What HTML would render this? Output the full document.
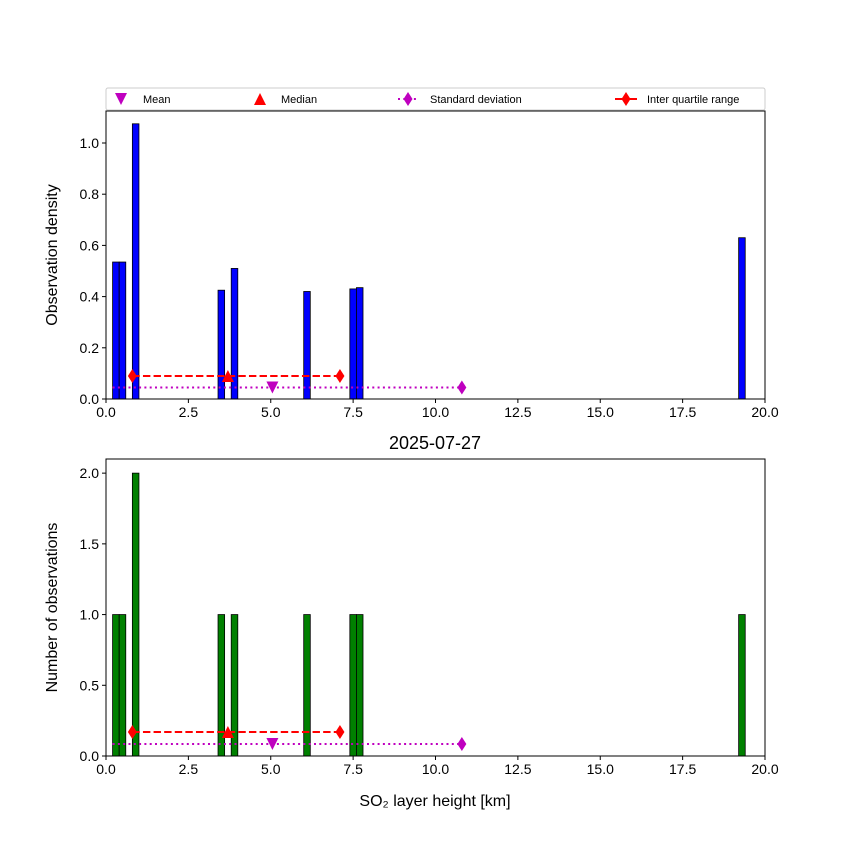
<!DOCTYPE html>
<html><head><meta charset="utf-8"><style>body{margin:0;background:#fff}svg{font-family:"Liberation Sans","DejaVu Sans",sans-serif}</style></head>
<body>
<svg id="c" width="850" height="850" xmlns="http://www.w3.org/2000/svg"></svg>
<script>
const binLefts=[0.2,0.4,0.8,3.4,3.8,6.0,7.4,7.6,19.2];
const binWidth=0.2;
const densities=[0.535,0.535,1.075,0.425,0.51,0.42,0.43,0.435,0.63];
const counts=[1,1,2,1,1,1,1,1,1];
const meanVal=5.05, medianVal=3.7, q1=0.8, q3=7.1, stdStart=0.2, stdEnd=10.8;
const topMarkY={mean:0.045,median:0.09,iqr:0.09,std:0.045};
const botMarkY={mean:0.085,median:0.17,iqr:0.17,std:0.085};
const xTicks=[0,2.5,5,7.5,10,12.5,15,17.5,20];
const xTickLabels=["0.0","2.5","5.0","7.5","10.0","12.5","15.0","17.5","20.0"];
const topYTicks=[0,0.2,0.4,0.6,0.8,1.0];
const topYLabels=["0.0","0.2","0.4","0.6","0.8","1.0"];
const botYTicks=[0,0.5,1.0,1.5,2.0];
const botYLabels=["0.0","0.5","1.0","1.5","2.0"];

const svg=document.getElementById('c');const NS="http://www.w3.org/2000/svg";
function el(t,a,p){const e=document.createElementNS(NS,t);for(const k in a)e.setAttribute(k,a[k]);(p||svg).appendChild(e);return e;}
const X0=106,X1=765;
const sx=v=>X0+(v/20)*(X1-X0);
function panel(name,top,bottom,ymax,vals,color,yt,yl,marks,ylabel){
  const g=el('g',{});
  
  
  const sy=v=>bottom-(v/ymax)*(bottom-top);
  vals.forEach((v,i)=>{const r=el('rect',{x:sx(binLefts[i]),y:sy(v),width:sx(binWidth)-sx(0),height:bottom-sy(v),fill:color,stroke:'#000','stroke-width':0.8},g);
    
    });
  const sl=el('line',{x1:sx(stdStart),x2:sx(stdEnd),y1:sy(marks.std),y2:sy(marks.std),stroke:'#bf00bf','stroke-width':2,'stroke-dasharray':'2,3.3'},g);
  
  
  diamond(g,sx(stdEnd),sy(marks.std),'#bf00bf','std-marker');
  const il=el('line',{x1:sx(q1),x2:sx(q3),y1:sy(marks.iqr),y2:sy(marks.iqr),stroke:'red','stroke-width':2,'stroke-dasharray':'7.4,3.2'},g);
  
  
  diamond(g,sx(q1),sy(marks.iqr),'red','iqr-marker');
  diamond(g,sx(q3),sy(marks.iqr),'red','iqr-marker');
  tri(g,sx(medianVal),sy(marks.median),'red',false,'median-marker');
  tri(g,sx(meanVal),sy(marks.mean),'#bf00bf',true,'mean-marker');
  const fr=el('rect',{x:X0,y:top,width:X1-X0,height:bottom-top,fill:'none',stroke:'#000','stroke-width':1},g);
  
  
  xTicks.forEach((t,i)=>{el('line',{x1:sx(t),x2:sx(t),y1:bottom,y2:bottom+4,stroke:'#000'},g);
    const tx=el('text',{x:sx(t),y:bottom+18,'font-size':14,'text-anchor':'middle'},g);tx.textContent=xTickLabels[i];
    
    });
  yt.forEach((t,i)=>{el('line',{x1:X0-4,x2:X0,y1:sy(t),y2:sy(t),stroke:'#000'},g);
    const tx=el('text',{x:X0-7,y:sy(t)+5,'font-size':14,'text-anchor':'end'},g);tx.textContent=yl[i];
    
    });
  const yc=(top+bottom)/2;
  const lab=el('text',{x:57,y:yc,'font-size':16,'text-anchor':'middle',transform:`rotate(-90 57 ${yc})`},g);lab.textContent=ylabel;
  
  
}
function diamond(g,x,y,c,n){const p=el('polygon',{points:`${x},${y-7} ${x+4.5},${y} ${x},${y+7} ${x-4.5},${y}`,fill:c},g);
  
  }
function tri(g,x,y,c,down,n){const s=6;const pts=down?`${x-s},${y-s} ${x+s},${y-s} ${x},${y+s}`:`${x-s},${y+s} ${x+s},${y+s} ${x},${y-s}`;
  const p=el('polygon',{points:pts,fill:c},g);
  
  }
panel('density-panel',111,399,1.125,densities,'blue',topYTicks,topYLabels,topMarkY,'Observation density');
panel('count-panel',459,756,2.1,counts,'green',botYTicks,botYLabels,botMarkY,'Number of observations');
const ti=el('text',{x:435,y:449,'font-size':18,'text-anchor':'middle'});ti.textContent='2025-07-27';


const xl=el('text',{x:435,y:806,'font-size':16,'text-anchor':'middle'});xl.textContent='SO₂ layer height [km]';


const lg=el('g',{});


el('rect',{x:106,y:88,width:659,height:22,rx:2,fill:'#fff',stroke:'#ccc'},lg);
tri(lg,121,99,'#bf00bf',true,'legend-mean-icon');
tri(lg,260,99,'red',false,'legend-median-icon');
el('line',{x1:398,x2:418,y1:99,y2:99,stroke:'#bf00bf','stroke-width':2,'stroke-dasharray':'2,3.3'},lg);
diamond(lg,408,99,'#bf00bf','legend-std-icon');
el('line',{x1:615,x2:637,y1:99,y2:99,stroke:'red','stroke-width':2},lg);
diamond(lg,626,99,'red','legend-iqr-icon');
[['Mean',143],['Median',281],['Standard deviation',430],['Inter quartile range',647]].forEach(([t,x])=>{
  const tx=el('text',{x:x,y:103,'font-size':11},lg);tx.textContent=t;
  
  });
</script>
</body></html>
